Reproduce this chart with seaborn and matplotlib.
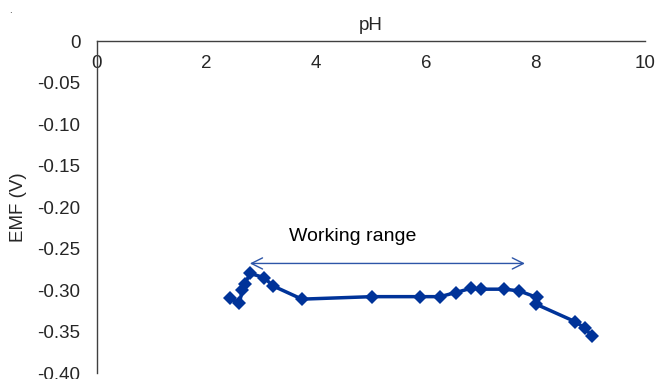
import numpy as np
import pandas as pd
import seaborn as sns
from matplotlib import pyplot as plt
from matplotlib.ticker import FuncFormatter

# pH vs EMF readings
ph = [2.43, 2.60, 2.65, 2.70, 2.79, 3.05, 3.21, 3.74, 5.02, 5.89, 6.26,
      6.55, 6.82, 7.00, 7.43, 7.70, 8.03, 8.01, 8.72, 8.91, 9.03]
emf = [-0.310, -0.316, -0.300, -0.293, -0.280, -0.285, -0.295, -0.311,
       -0.308, -0.308, -0.308, -0.303, -0.298, -0.299, -0.299, -0.301,
       -0.309, -0.317, -0.338, -0.346, -0.356]

range_start, range_end, range_level = 2.79, 7.81, -0.268
range_label = "Working range"

x_ticks = [0, 2, 4, 6, 8, 10]
y_ticks = [0, -0.05, -0.10, -0.15, -0.20, -0.25, -0.30, -0.35, -0.40]

sns.set_style("white")
plt.rcParams["font.family"] = ["Liberation Sans", "DejaVu Sans"]
plt.rcParams["font.size"] = 13.5

line_color = "#003399"

fig = plt.figure(figsize=(6.57, 3.79), dpi=100)
ax = fig.add_axes([0.1476, 0.0158, 0.8341, 0.876])

data = pd.DataFrame({"pH": ph, "EMF": emf})
sns.lineplot(data=data, x="pH", y="EMF", sort=False, ax=ax, color=line_color,
             linewidth=2.5, marker="D", markersize=7.5, markeredgewidth=0)

ax.annotate("", xy=(range_end, range_level), xytext=(range_start, range_level),
            arrowprops=dict(arrowstyle="<->", color="#2d55a8", lw=1.0,
                            mutation_scale=20, shrinkA=0, shrinkB=0))
ax.text(4.67, -0.235, range_label, ha="center", va="center",
        fontsize=14, color="black")

ax.set_xlim(0, 10)
ax.set_ylim(-0.40, 0)
ax.set_xticks(x_ticks)
ax.set_yticks(y_ticks)
ax.yaxis.set_major_formatter(FuncFormatter(lambda v, p: "0" if abs(v) < 1e-9 else f"{v:.2f}"))

for s in ["top", "right"]:
    ax.spines[s].set_visible(False)
ax.spines["bottom"].set_position(("data", 0))
for s in ["bottom", "left"]:
    ax.spines[s].set_color("#404040")
    ax.spines[s].set_linewidth(1.0)

ax.tick_params(axis="x", length=0, pad=10, labelsize=13.5)
ax.tick_params(axis="y", length=0, pad=12, labelsize=13.5)

ax.xaxis.set_label_position("top")
ax.set_xlabel("pH", labelpad=8, fontsize=13.5)
ax.set_ylabel("EMF (V)", labelpad=7, fontsize=13.5)

fig.text(0.014, 0.965, ".", fontsize=7)

fig.savefig("out.png", dpi=100)
